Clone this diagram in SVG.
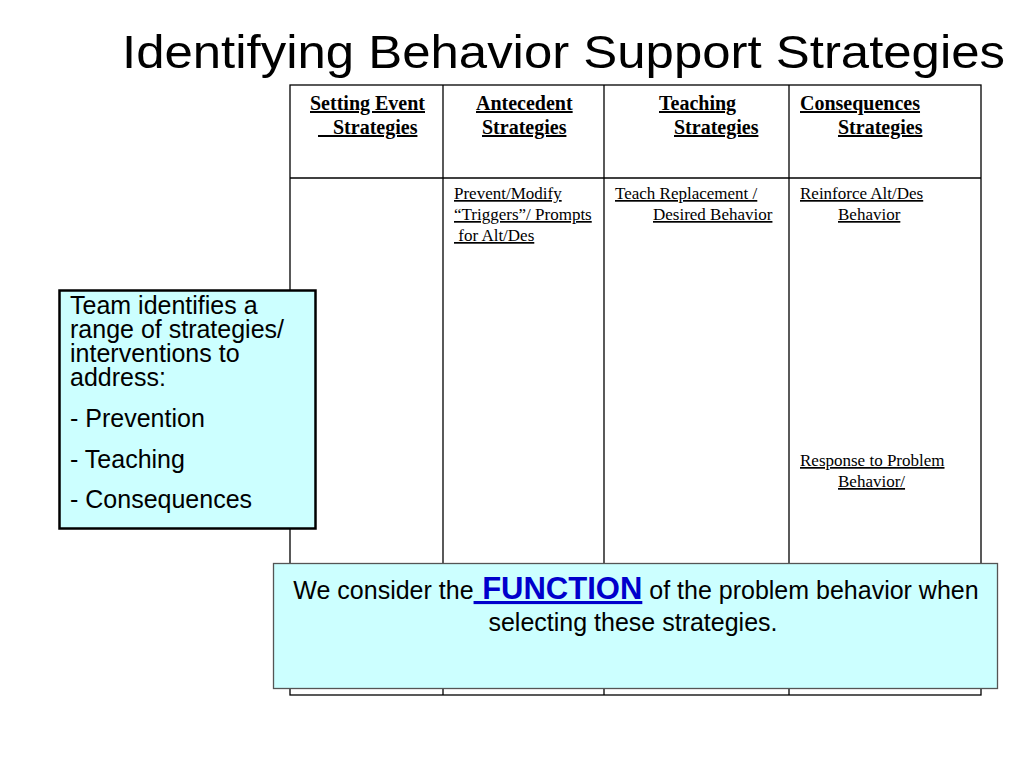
<svg xmlns="http://www.w3.org/2000/svg" width="1024" height="768" viewBox="0 0 1024 768">
<style>
.title{font-family:"Liberation Sans",Arial,sans-serif;font-size:46px;fill:#000}
.hd{font-family:"Liberation Serif","Times New Roman",serif;font-size:20px;font-weight:bold;text-decoration:underline;fill:#000}
.bd{font-family:"Liberation Serif","Times New Roman",serif;font-size:17px;text-decoration:underline;fill:#000}
.sans{font-family:"Liberation Sans",Arial,sans-serif;font-size:25px;fill:#000}
.grid{stroke:#000;stroke-width:1.3;fill:none}
</style>
<rect width="1024" height="768" fill="#fff"/>
<text class="title" x="122" y="68" textLength="883" lengthAdjust="spacingAndGlyphs">Identifying Behavior Support Strategies</text>
<g id="table">
<rect class="grid" x="290" y="85" width="691" height="610"/>
<line class="grid" x1="290" y1="178" x2="981" y2="178"/>
<line class="grid" x1="443" y1="85" x2="443" y2="695"/>
<line class="grid" x1="604" y1="85" x2="604" y2="695"/>
<line class="grid" x1="789" y1="85" x2="789" y2="695"/>
<text class="hd" x="310" y="110">Setting Event</text>
<text class="hd" x="318" y="134" xml:space="preserve">   Strategies</text>
<text class="hd" x="476" y="110">Antecedent</text>
<text class="hd" x="482" y="134">Strategies</text>
<text class="hd" x="659" y="110">Teaching</text>
<text class="hd" x="674" y="134">Strategies</text>
<text class="hd" x="800" y="110">Consequences</text>
<text class="hd" x="838" y="134">Strategies</text>
<text class="bd" x="454" y="199">Prevent/Modify</text>
<text class="bd" x="454" y="220">“Triggers”/ Prompts</text>
<text class="bd" x="454" y="241" xml:space="preserve"> for Alt/Des</text>
<text class="bd" x="615" y="199">Teach Replacement /</text>
<text class="bd" x="653" y="220">Desired Behavior</text>
<text class="bd" x="800" y="199">Reinforce Alt/Des</text>
<text class="bd" x="838" y="220">Behavior</text>
<text class="bd" x="800" y="466">Response to Problem</text>
<text class="bd" x="838" y="487">Behavior/</text>
</g>
<g id="team-box">
<rect x="59.5" y="290.5" width="256" height="238" fill="#ccffff" stroke="#000" stroke-width="2.5"/>
<text class="sans" x="70" y="314">Team identifies a</text>
<text class="sans" x="70" y="338">range of strategies/</text>
<text class="sans" x="70" y="362">interventions to</text>
<text class="sans" x="70" y="386">address:</text>
<text class="sans" x="70" y="427">- Prevention</text>
<text class="sans" x="70" y="468">- Teaching</text>
<text class="sans" x="70" y="508">- Consequences</text>
</g>
<g id="function-box">
<rect x="273.5" y="563.5" width="724" height="125" fill="#ccffff" stroke="#555" stroke-width="1.3"/>
<text class="sans" x="636" y="599" text-anchor="middle" font-size="25.3" xml:space="preserve">We consider the<tspan font-weight="bold" font-size="31" fill="#0000cc" text-decoration="underline"> FUNCTION</tspan> of the problem behavior when</text>
<text class="sans" x="633" y="631" text-anchor="middle">selecting these strategies.</text>
</g>
</svg>
